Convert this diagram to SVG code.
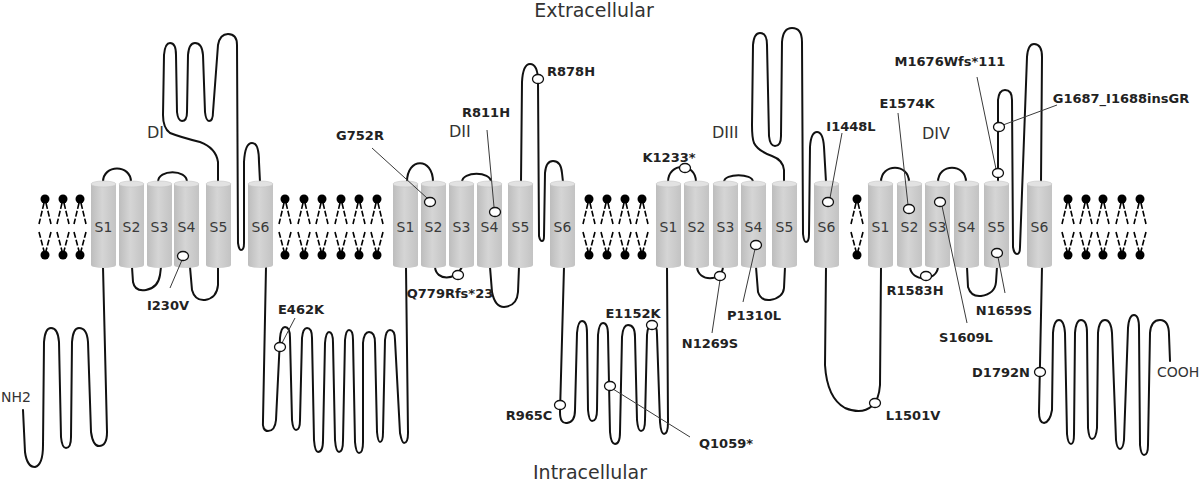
<svg xmlns="http://www.w3.org/2000/svg" width="1200" height="481" viewBox="0 0 1200 481">
<style>
.chain{fill:none;stroke:#111;stroke-width:2;stroke-linecap:round;stroke-linejoin:round}
.lead{stroke:#3a3a3a;stroke-width:1;fill:none}
.mut{fill:#fff;stroke:#111;stroke-width:1.3}
.lab{font-family:"DejaVu Sans",sans-serif;font-weight:bold;font-size:13px;fill:#222;text-anchor:middle}
.seg{font-family:"DejaVu Sans",sans-serif;font-size:14px;fill:#3a3a3a;text-anchor:middle}
.dom{font-family:"DejaVu Sans",sans-serif;font-size:16px;fill:#333}
.side{font-family:"DejaVu Sans",sans-serif;font-size:19px;fill:#333;text-anchor:middle}
.term{font-family:"DejaVu Sans",sans-serif;font-size:14px;fill:#333}
</style>
<defs>
<linearGradient id="cg" x1="0" x2="1" y1="0" y2="0">
<stop offset="0" stop-color="#bdbdbd"/><stop offset="0.45" stop-color="#d5d5d5"/><stop offset="1" stop-color="#c3c3c3"/>
</linearGradient>
<g id="cyl">
<rect x="0" y="184" width="25" height="81" fill="url(#cg)"/>
<ellipse cx="12.5" cy="265" rx="12.5" ry="3" fill="url(#cg)"/>
<ellipse cx="12.5" cy="184" rx="12.5" ry="3" fill="#e2e2e2" stroke="#c4c4c4" stroke-width="0.6"/>
</g>
<g id="lipid">
<circle cx="0" cy="199" r="4.5" fill="#000"/>
<path d="M-1,203 L-6,224 M1,203 L6,224 M-6,232 L-1,251 M6,232 L1,251" stroke="#000" stroke-width="1.6" stroke-dasharray="6 2" fill="none"/>
<circle cx="0" cy="255" r="4.5" fill="#000"/>
</g>
</defs>

<g id="labels-side">
<text class="side" x="594" y="17">Extracellular</text>
<text class="side" x="590" y="479">Intracellular</text>
<text class="dom" x="147" y="138">DI</text>
<text class="dom" x="449" y="137">DII</text>
<text class="dom" x="712" y="138">DIII</text>
<text class="dom" x="922" y="139">DIV</text>
<text class="term" x="1" y="402">NH2</text>
<text class="term" x="1157" y="377">COOH</text>
</g>

<g id="membrane-lipids">
<use href="#lipid" x="45"/><use href="#lipid" x="63"/><use href="#lipid" x="80"/>
<use href="#lipid" x="285"/><use href="#lipid" x="304"/><use href="#lipid" x="322"/><use href="#lipid" x="341"/><use href="#lipid" x="359"/><use href="#lipid" x="377"/>
<use href="#lipid" x="589"/><use href="#lipid" x="607"/><use href="#lipid" x="625"/><use href="#lipid" x="642"/>
<use href="#lipid" x="857"/>
<use href="#lipid" x="1068"/><use href="#lipid" x="1086"/><use href="#lipid" x="1103"/><use href="#lipid" x="1122"/><use href="#lipid" x="1140"/>
</g>

<g id="connectors">
<!-- N-terminus -->
<path class="chain" d="M23,410 L25,452 Q27,467 35,467 Q43,465 43,445 L44,342 Q45,328 51,328 Q58,328 59,342 L61,437 Q62,448 66,448 Q71,448 71,437 L72,342 Q73,328 79,328 Q87,328 88,342 L91,432 Q93,446 99,446 Q107,446 107,432 L103,267"/>
<!-- DI -->
<path class="chain" d="M103,182 C103,164 131,164 131,182"/>
<path class="chain" d="M132,267 L133,282 Q135,292 146,290 Q158,288 160,275 L161,267"/>
<path class="chain" d="M158,182 C158,169 187,169 187,182"/>
<path class="chain" d="M190,267 L192,290 Q195,301 205,300 Q217,298 218,285 L218,267"/>
<path class="chain" d="M218,182 L218,162 Q216,148 200,142 Q180,137 170,133 Q163,128 163,115 L164,55 Q165,43 170,43 Q176,43 176,55 L177,112 Q178,121 182,121 Q187,121 187,112 L188,55 Q189,43 195,43 Q202,43 203,55 L205,112 Q206,121 209,121 Q213,121 213,112 L218,45 Q220,34 228,34 Q237,34 237,45 L238,243 Q239,250 241,250 Q244,250 244,243 L244,162 Q245,143 252,143 Q259,143 259,162 L260,182"/>
<!-- DI-DII linker -->
<path class="chain" d="M266,267 L263,420 Q262,431 268,431 Q275,431 276,420 L280,338 Q281,327 285,327 Q290,327 290,338 L292,420 Q293,430 296,430 Q300,430 300,420 L302,338 Q303,328 307,328 Q312,328 312,338 L314,440 Q315,452 318,452 Q323,452 323,440 L325,343 Q326,332 329,332 Q333,332 333,343 L335,440 Q336,452 339,452 Q343,452 343,440 L345,340 Q346,330 349,330 Q353,330 353,340 L355,442 Q356,453 359,453 Q363,453 363,442 L363,343 Q364,332 369,332 Q375,332 375,343 L377,432 Q378,442 380,442 Q383,442 383,432 L385,340 Q386,330 390,330 Q395,330 395,340 L400,433 Q402,443 404,443 Q408,443 408,433 L406,267"/>
<!-- DII -->
<path class="chain" d="M407,182 C407,157 433,157 433,182"/>
<path class="chain" d="M435,267 C436,281 456,281 462,267"/>
<path class="chain" d="M462,182 C462,171 491,171 491,182"/>
<path class="chain" d="M490,267 L492,292 Q495,307 504,307 Q517,306 518,292 L519,267"/>
<path class="chain" d="M521,182 L522,82 Q523,64 530,64 Q538,64 538,82 L539,236 Q540,241 542,241 Q544,241 544,236 L545,173 Q546,161 553,161 Q561,161 562,173 L563,182"/>
<!-- DII-DIII linker -->
<path class="chain" d="M564,267 L560,412 Q560,424 567,423 Q575,422 575,410 L577,333 Q578,321 582,321 Q587,321 587,333 L588,410 Q589,421 592,421 Q597,421 597,410 L598,335 Q599,323 603,323 Q608,323 608,335 L610,432 Q611,444 615,444 Q620,444 620,432 L622,337 Q623,325 628,325 Q635,325 635,337 L637,420 Q638,431 641,431 Q645,431 645,420 L647,335 Q648,324 652,324 Q657,324 657,335 L660,422 Q661,434 664,434 Q668,434 668,422 L667,267"/>
<!-- DIII -->
<path class="chain" d="M668,182 C668,162 696,162 696,182"/>
<path class="chain" d="M697,267 C698,282 722,282 723,267"/>
<path class="chain" d="M724,182 C724,173 753,173 753,182"/>
<path class="chain" d="M756,267 L758,292 Q761,301 770,300 Q783,298 784,288 L785,267"/>
<path class="chain" d="M784,182 L784,170 Q783,160 772,156 Q758,151 754,143 Q752,138 752,125 L753,45 Q754,33 760,33 Q767,33 767,45 L769,136 Q770,146 775,146 Q781,146 781,136 L782,42 Q783,28 792,28 Q802,28 802,42 L803,234 Q804,242 806,242 Q809,242 809,234 L810,147 Q811,132 817,132 Q823,132 824,147 L826,182"/>
<!-- DIII-DIV linker -->
<path class="chain" d="M826,267 L825,365 Q827,398 845,408 Q862,415 872,406 Q879,400 880,385 L881,267"/>
<!-- DIV -->
<path class="chain" d="M881,182 C881,163 909,163 909,182"/>
<path class="chain" d="M910,267 C911,282 937,282 938,267"/>
<path class="chain" d="M938,182 C938,163 966,163 966,182"/>
<path class="chain" d="M967,267 L968,287 Q971,297 981,296 Q995,294 996,282 L997,267"/>
<path class="chain" d="M998,182 L998,100 Q999,90 1005,90 Q1012,90 1012,100 L1013,247 Q1014,254 1017,254 Q1020,254 1020,247 L1027,57 Q1028,44 1034,44 Q1042,44 1042,57 L1041,182"/>
<!-- C-terminus -->
<path class="chain" d="M1042,267 L1039,412 Q1039,423 1044,423 Q1050,422 1052,410 L1053,333 Q1054,320 1059,320 Q1064,320 1065,333 L1067,434 Q1068,444 1071,444 Q1074,444 1074,434 L1075,333 Q1076,320 1081,320 Q1087,320 1087,333 L1088,428 Q1089,439 1092,439 Q1096,439 1097,428 L1098,333 Q1099,320 1105,320 Q1111,320 1112,333 L1116,440 Q1117,449 1120,449 Q1123,449 1124,440 L1128,328 Q1129,315 1134,315 Q1139,315 1139,328 L1140,445 Q1141,455 1144,455 Q1148,455 1148,445 L1150,333 Q1151,320 1160,320 Q1169,320 1169,335 L1170,361"/>
</g>

<g id="DI-S1"><use href="#cyl" x="91"/><text class="seg" x="103.5" y="232">S1</text></g>
<g id="DI-S2"><use href="#cyl" x="119"/><text class="seg" x="131.5" y="232">S2</text></g>
<g id="DI-S3"><use href="#cyl" x="147"/><text class="seg" x="159.5" y="232">S3</text></g>
<g id="DI-S4"><use href="#cyl" x="174"/><text class="seg" x="186.5" y="232">S4</text></g>
<g id="DI-S5"><use href="#cyl" x="206"/><text class="seg" x="218.5" y="232">S5</text></g>
<g id="DI-S6"><use href="#cyl" x="248"/><text class="seg" x="260.5" y="232">S6</text></g>
<g id="DII-S1"><use href="#cyl" x="393"/><text class="seg" x="405.5" y="232">S1</text></g>
<g id="DII-S2"><use href="#cyl" x="421"/><text class="seg" x="433.5" y="232">S2</text></g>
<g id="DII-S3"><use href="#cyl" x="449"/><text class="seg" x="461.5" y="232">S3</text></g>
<g id="DII-S4"><use href="#cyl" x="477"/><text class="seg" x="489.5" y="232">S4</text></g>
<g id="DII-S5"><use href="#cyl" x="508"/><text class="seg" x="520.5" y="232">S5</text></g>
<g id="DII-S6"><use href="#cyl" x="550"/><text class="seg" x="562.5" y="232">S6</text></g>
<g id="DIII-S1"><use href="#cyl" x="656"/><text class="seg" x="668.5" y="232">S1</text></g>
<g id="DIII-S2"><use href="#cyl" x="684"/><text class="seg" x="696.5" y="232">S2</text></g>
<g id="DIII-S3"><use href="#cyl" x="713"/><text class="seg" x="725.5" y="232">S3</text></g>
<g id="DIII-S4"><use href="#cyl" x="741"/><text class="seg" x="753.5" y="232">S4</text></g>
<g id="DIII-S5"><use href="#cyl" x="772"/><text class="seg" x="784.5" y="232">S5</text></g>
<g id="DIII-S6"><use href="#cyl" x="814"/><text class="seg" x="826.5" y="232">S6</text></g>
<g id="DIV-S1"><use href="#cyl" x="868"/><text class="seg" x="880.5" y="232">S1</text></g>
<g id="DIV-S2"><use href="#cyl" x="897"/><text class="seg" x="909.5" y="232">S2</text></g>
<g id="DIV-S3"><use href="#cyl" x="925"/><text class="seg" x="937.5" y="232">S3</text></g>
<g id="DIV-S4"><use href="#cyl" x="954"/><text class="seg" x="966.5" y="232">S4</text></g>
<g id="DIV-S5"><use href="#cyl" x="984"/><text class="seg" x="996.5" y="232">S5</text></g>
<g id="DIV-S6"><use href="#cyl" x="1027"/><text class="seg" x="1039.5" y="232">S6</text></g>

<g id="leaders">
<path class="lead" d="M182,260 L170,288"/>
<path class="lead" d="M282,343 L295,318"/>
<path class="lead" d="M372,148 L427,198"/>
<path class="lead" d="M487,130 L494,207"/>
<path class="lead" d="M613,389 L690,437"/>
<path class="lead" d="M720,280 L712,333"/>
<path class="lead" d="M755,249 L743,302"/>
<path class="lead" d="M842,133 L830,198"/>
<path class="lead" d="M898,113 L908,205"/>
<path class="lead" d="M942,206 L967,323"/>
<path class="lead" d="M998,257 L1005,293"/>
<path class="lead" d="M977,77 L996,169"/>
<path class="lead" d="M1003,125 L1057,105"/>
</g>

<g id="m-I230V"><ellipse class="mut" cx="183" cy="256" rx="5.5" ry="4.5"/><text class="lab" x="168" y="310">I230V</text></g>
<g id="m-E462K"><ellipse class="mut" cx="280" cy="347" rx="5.5" ry="4.5"/><text class="lab" x="301" y="314">E462K</text></g>
<g id="m-G752R"><ellipse class="mut" cx="430" cy="202" rx="5.5" ry="4.5"/><text class="lab" x="360" y="140">G752R</text></g>
<g id="m-R811H"><ellipse class="mut" cx="495" cy="212" rx="5.5" ry="4.5"/><text class="lab" x="486" y="117">R811H</text></g>
<g id="m-R878H"><ellipse class="mut" cx="538" cy="79" rx="5.5" ry="4.5"/><text class="lab" x="571" y="76">R878H</text></g>
<g id="m-Q779Rfs23"><ellipse class="mut" cx="458" cy="275" rx="5.5" ry="4.5"/><text class="lab" x="450" y="298">Q779Rfs*23</text></g>
<g id="m-R965C"><ellipse class="mut" cx="560" cy="405" rx="5.5" ry="4.5"/><text class="lab" x="529" y="420">R965C</text></g>
<g id="m-Q1059"><ellipse class="mut" cx="610" cy="386" rx="5.5" ry="4.5"/><text class="lab" x="726" y="448">Q1059*</text></g>
<g id="m-E1152K"><ellipse class="mut" cx="652" cy="325" rx="5.5" ry="4.5"/><text class="lab" x="633" y="318">E1152K</text></g>
<g id="m-K1233"><ellipse class="mut" cx="685" cy="168" rx="5.5" ry="4.5"/><text class="lab" x="669" y="162">K1233*</text></g>
<g id="m-N1269S"><ellipse class="mut" cx="720" cy="276" rx="5.5" ry="4.5"/><text class="lab" x="710" y="348">N1269S</text></g>
<g id="m-P1310L"><ellipse class="mut" cx="756" cy="245" rx="5.5" ry="4.5"/><text class="lab" x="754" y="320">P1310L</text></g>
<g id="m-I1448L"><ellipse class="mut" cx="828" cy="202" rx="5.5" ry="4.5"/><text class="lab" x="851" y="131">I1448L</text></g>
<g id="m-L1501V"><ellipse class="mut" cx="875" cy="403" rx="5.5" ry="4.5"/><text class="lab" x="913" y="420">L1501V</text></g>
<g id="m-E1574K"><ellipse class="mut" cx="909" cy="209" rx="5.5" ry="4.5"/><text class="lab" x="907" y="108">E1574K</text></g>
<g id="m-R1583H"><ellipse class="mut" cx="926" cy="276" rx="5.5" ry="4.5"/><text class="lab" x="915" y="295">R1583H</text></g>
<g id="m-S1609L"><ellipse class="mut" cx="940" cy="202" rx="5.5" ry="4.5"/><text class="lab" x="966" y="342">S1609L</text></g>
<g id="m-N1659S"><ellipse class="mut" cx="997" cy="253" rx="5.5" ry="4.5"/><text class="lab" x="1004" y="315">N1659S</text></g>
<g id="m-M1676Wfs111"><ellipse class="mut" cx="998" cy="173" rx="5.5" ry="4.5"/><text class="lab" x="950" y="66">M1676Wfs*111</text></g>
<g id="m-G1687insGR"><ellipse class="mut" cx="999" cy="127" rx="5.5" ry="4.5"/><text class="lab" x="1121" y="103">G1687_I1688insGR</text></g>
<g id="m-D1792N"><ellipse class="mut" cx="1040" cy="372" rx="5.5" ry="4.5"/><text class="lab" x="1001" y="377">D1792N</text></g>
</svg>
